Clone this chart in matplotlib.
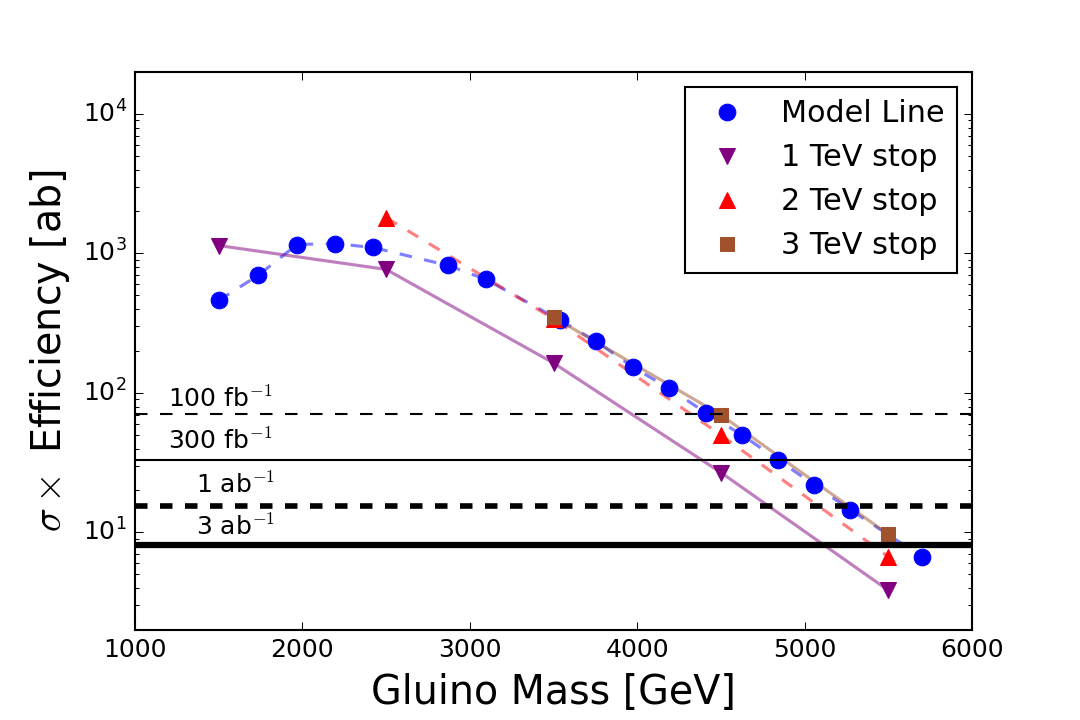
import matplotlib
matplotlib.use("Agg")
import matplotlib.pyplot as plt

plt.style.use('classic')

# model line points (gluino mass in GeV, sigma x eff in ab)
model_mass = [1500, 1735, 1968, 2195, 2422, 2870, 3097, 3539, 3754, 3975,
              4190, 4411, 4626, 4841, 5056, 5271, 5701]
model_xsec = [461, 696, 1160, 1178, 1104, 821, 652, 332, 235, 153,
              108, 72, 50, 33.2, 22, 14.6, 6.7]

stop1_mass = [1500, 2500, 3500, 4500, 5500]
stop1_xsec = [1140, 769, 164, 26.9, 3.85]

stop2_mass = [2500, 3500, 4500, 5500]
stop2_xsec = [1808, 340, 50, 6.7]

stop3_mass = [3500, 4500, 5500]
stop3_xsec = [349, 69.6, 9.7]

# luminosity reach lines
lumi_labels = [r'100 fb$^{-1}$', r'300 fb$^{-1}$', r'1 ab$^{-1}$', r'3 ab$^{-1}$']
lumi_values = [70.5, 33.2, 15.4, 8.1]
lumi_styles = ['--', '-', '--', '-']
lumi_widths = [1, 1, 2.7, 3]
lumi_text_x = [1200, 1200, 1365, 1365]
lumi_text_dy = [3.5, 5, 6.5, 5]

fig = plt.figure(figsize=(7.2, 4.8), dpi=150)
ax = fig.add_axes([0.125, 0.125, 0.775, 0.775])

# connecting lines
ax.plot(model_mass, model_xsec, '--', color='blue', alpha=0.5, lw=1.5)
ax.plot(stop1_mass, stop1_xsec, '-', color='purple', alpha=0.5, lw=1.5)
ax.plot(stop2_mass, stop2_xsec, '--', color='red', alpha=0.5, lw=1.5)
ax.plot(stop3_mass, stop3_xsec, '-', color='sienna', alpha=0.5, lw=1.5)

# markers
ax.plot(model_mass, model_xsec, 'o', color='blue', mec='blue', ms=8, label='Model Line')
ax.plot(stop1_mass, stop1_xsec, 'v', color='purple', mec='purple', ms=8, label='1 TeV stop')
ax.plot(stop2_mass, stop2_xsec, '^', color='red', mec='red', ms=8, label='2 TeV stop')
ax.plot(stop3_mass, stop3_xsec, 's', color='sienna', mec='sienna', ms=7, label='3 TeV stop')

for lab, val, ls, lw, tx, dy in zip(lumi_labels, lumi_values, lumi_styles,
                                    lumi_widths, lumi_text_x, lumi_text_dy):
    ax.axhline(val, color='black', ls=ls, lw=lw)
    ax.annotate(lab, xy=(tx, val), xytext=(0, dy), textcoords='offset points',
                ha='left', va='baseline', fontsize=12)

ax.set_yscale('log')
ax.set_xlim(1000, 6000)
ax.set_ylim(2, 2e4)
ax.set_xlabel('Gluino Mass [GeV]', fontsize=19)
ax.set_ylabel(r'$\sigma\times$ Efficiency [ab]', fontsize=19)
ax.tick_params(labelsize=12)
ax.legend(loc='upper right', numpoints=1, fontsize=14.5)

fig.savefig('out.png', dpi=150)
